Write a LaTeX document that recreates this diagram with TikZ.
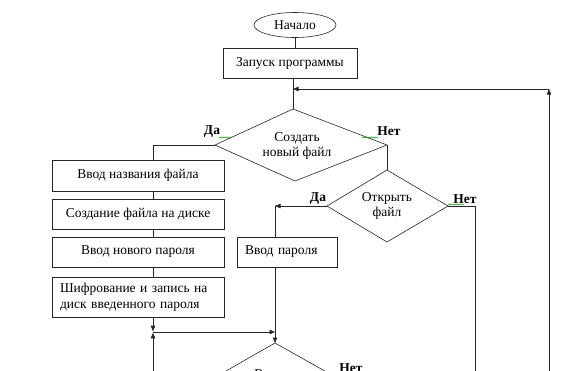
\documentclass[tikz,border=0pt]{standalone}
\usepackage{fontspec}
\setmainfont{Liberation Serif}
\usetikzlibrary{shapes.geometric,arrows.meta,decorations.pathmorphing}
\newcommand\dgfs{\fontsize{13.5}{15.5}\selectfont}
\begin{document}
\begin{tikzpicture}[x=1pt,y=-1pt,
  ln/.style={draw=black!85, line width=0.6pt},
  arr/.style={ln, -{Triangle[length=5.5pt,width=4.5pt]}},
  box/.style={draw=black!85, line width=0.6pt, rectangle, minimum height=30pt, inner sep=0pt, font=\dgfs},
  startst/.style={draw=black!85, line width=0.6pt, ellipse, minimum width=82pt, minimum height=25pt, inner sep=0pt, font=\dgfs},
  txt/.style={font=\dgfs, align=center, inner sep=0pt},
  yn/.style={font=\dgfs\bfseries, inner sep=0pt},
  squig/.style={draw=green!55!black, line width=0.4pt, decorate, decoration={snake, segment length=2.2pt, amplitude=0.6pt}}
]
\clip (0,0) rectangle (580,370);
\useasboundingbox (0,0) rectangle (580,370);

% nodes
\node[startst] (start) at (295,25) {Начало};
\node[box, minimum width=134pt] (run) at (290,63) {Запуск программы};

% decision 1
\coordinate (d1t) at (293,109);
\coordinate (d1r) at (387,145);
\coordinate (d1b) at (295,181);
\coordinate (d1l) at (215,145);
\draw[ln] (d1t) -- (d1r) -- (d1b) -- (d1l) -- cycle;
\node[txt] (d1) at (297,146) {Создать\\новый файл};

% decision 2
\coordinate (d2t) at (387,170);
\coordinate (d2r) at (448,206);
\coordinate (d2b) at (387,242);
\coordinate (d2l) at (327,206);
\draw[ln] (d2t) -- (d2r) -- (d2b) -- (d2l) -- cycle;
\node[txt] (d2) at (387,206) {Открыть\\файл};

% left column
\node[box, minimum width=172pt, minimum height=31pt] (b1) at (138,175.5) {Ввод названия файла};
\node[box, minimum width=172pt] (b2) at (138,214) {Создание файла на диске};
\node[box, minimum width=172pt] (b3) at (138,252) {Ввод нового пароля};
\node[box, minimum height=40pt, text width=156pt, inner xsep=8pt, align=left] (b4) at (138,297) {Шифрование и запись на\\диск введенного пароля};

% password box
\node[box, text width=84pt, inner xsep=8pt, align=left] (pw) at (287,252) {Ввод пароля};

% decision 3
\coordinate (d3t) at (275,343);
\coordinate (d3r) at (339,379);
\coordinate (d3b) at (275,415);
\coordinate (d3l) at (212,379);
\draw[ln] (d3t) -- (d3r) -- (d3b) -- (d3l) -- cycle;
\node[txt] (d3) at (275,383) {Введен\\верный пароль};

% helper coordinates
\coordinate (jl) at (153,332);
\coordinate (lbot) at (153,372);
\coordinate (c2) at (275,206);
\coordinate (c3) at (275,332);
\coordinate (rn) at (475,206);
\coordinate (rnb) at (475,372);
\coordinate (lp) at (549,89);
\coordinate (lpb) at (549,372);
\coordinate (m1) at (293,89);

% connectors
\draw[ln] (start.south) -- (start.south |- run.north);
\draw[ln] (run.south -| d1t) -- (d1t);
\draw[arr] (lpb) -- (lp);
\draw[arr] (lp) -- (m1);
\draw[ln] (d1l) -| (b1.north -| jl);
\draw[ln] (b1.south -| jl) -- (b2.north -| jl);
\draw[ln] (b2.south -| jl) -- (b3.north -| jl);
\draw[ln] (b3.south -| jl) -- (b4.north -| jl);
\draw[arr] (b4.south -| jl) -- ([yshift=0.8pt]jl);
\draw[arr] (lbot) -- ([yshift=-0.8pt]jl);
\draw[arr] (jl) -- (c3);
\draw[ln] (d1r) -- (d2t);
\draw[arr] (d2l) -- (c2);
\draw[ln] (c2) -- (pw.north -| c2);
\draw[arr] (pw.south -| c2) -- (d3t);
\draw[ln] (d2r) -- (rn) -- (rnb);

% yes / no labels
\node[yn] (y1) at (212,132) {Да};
\node[yn] (n1) at (389,131) {Нет};
\node[yn] (y2) at (318,199) {Да};
\node[yn] (n2) at (465,199) {Нет};
\node[yn] (n3) at (351,368) {Нет};

% spell-check squiggles
\draw[squig] (219,137.5) -- (232,137.5);
\draw[squig] (362,137.5) -- (378,137.5);
\draw[squig] (448,204.5) -- (464,204.5);
\end{tikzpicture}
\end{document}
